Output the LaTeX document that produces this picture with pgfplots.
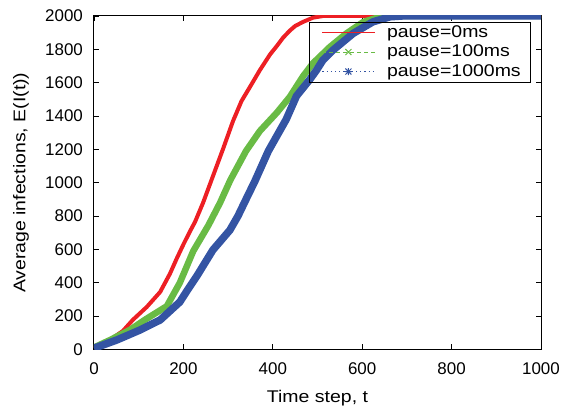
\documentclass[border=0pt]{standalone}
\usepackage{fontspec}
\setmainfont{Liberation Sans}
\newfontfamily\widefont[FakeStretch=1.15]{Liberation Sans}
\usepackage{pgfplots}
\pgfplotsset{compat=1.18}

\definecolor{cred}{RGB}{237,31,36}
\definecolor{cgreen}{RGB}{105,187,69}
\definecolor{cblue}{RGB}{52,84,163}

\begin{document}
\begin{tikzpicture}
\begin{axis}[
    at={(0,0)}, anchor=south west,
    scale only axis,
    width=447bp, height=333.5bp,
    xmin=0, xmax=1000, ymin=0, ymax=2000,
    xtick={0,200,...,1000},
    ytick={0,200,...,2000},
    tick align=inside,
    major tick length=5bp,
    axis line style={line width=1bp},
    every tick/.style={black, line width=0.8bp},
    tick label style={font=\fontsize{17}{20}\selectfont},
    /pgf/number format/assume math mode=true,
    /pgf/number format/1000 sep={},
    yticklabel style={xshift=-7.6bp},
    xticklabel style={yshift=-10bp},
    xlabel={Time step, t},
    ylabel={Average infections, E(I(t))},
    label style={font=\widefont\fontsize{17}{20}\selectfont},
    xlabel style={at={(axis description cs:0.5,-0.1604)}, anchor=base},
    ylabel style={at={(axis description cs:-0.1633,0.5)}, anchor=center},
    legend cell align=left,
    legend style={
        at={(axis description cs:0.481,0.983)}, anchor=north west,
        draw=black, line width=0.8bp, fill=none,
        font=\widefont\fontsize{17}{20}\selectfont,
        inner xsep=10bp, inner ysep=2.5bp,
        row sep=3.5bp, column sep=11bp,
        nodes={inner sep=0pt, text height=12.5bp, text depth=3.5bp},
    },
]
% pause=0ms
\addplot[cred, line width=4bp, line join=round,
    legend image code/.code={
        \path[draw=none, fill=none] (0bp,-2bp) rectangle (56bp,2bp);
        \draw[cred, line width=1bp] (3bp,0bp) -- (56bp,0bp);
    }] coordinates {
(0,10) (15,25) (36,58) (65,112) (87,178) (118,255) (148,345) (170,455)
(185,545) (200,630) (215,710) (226,765) (244,880) (262,1010) (289,1205)
(311,1370) (330,1490) (349,1575) (371,1675) (394,1770) (409,1820)
(423,1870) (438,1912) (450,1940) (468,1965) (490,1990) (512,2000) (1000,2000)
};
\addlegendentry{pause=0ms}
% pause=100ms
\addplot[cgreen, line width=6.5bp, line join=round,
    legend image code/.code={
        \path[draw=none, fill=none] (0bp,-2bp) rectangle (56bp,2bp);
        \draw[cgreen, line width=1bp, dash pattern=on 4bp off 3bp] (3bp,0bp) -- (56bp,0bp);
        \draw[cgreen, line width=1bp] (26bp,-3bp) -- (32bp,3bp) (26bp,3bp) -- (32bp,-3bp);
    }] coordinates {
(0,12) (36,57) (80,117) (118,185) (163,260) (192,400) (222,590) (256,745)
(282,880) (305,1016) (340,1190) (371,1310) (409,1420) (438,1515)
(468,1640) (490,1717) (528,1815) (565,1896) (603,1965) (640,1995)
(660,2000) (1000,2000)
};
\addlegendentry{pause=100ms}
% pause=1000ms
\addplot[cblue, line width=7.5bp, line join=round,
    legend image code/.code={
        \path[draw=none, fill=none] (0bp,-2bp) rectangle (56bp,2bp);
        \draw[cblue, line width=1.2bp, dash pattern=on 1.2bp off 3bp] (3bp,0bp) -- (56bp,0bp);
        \draw[cblue, line width=1bp] (26bp,-3bp) -- (32bp,3bp) (26bp,3bp) -- (32bp,-3bp)
            (29bp,-3.5bp) -- (29bp,3.5bp) (25.5bp,0bp) -- (32.5bp,0bp);
    }] coordinates {
(0,8) (13,20) (51,57) (103,117) (148,177) (192,285) (210,360) (230,440)
(266,597) (304,716) (322,800) (340,900) (360,1010) (390,1190) (430,1380)
(453,1520) (483,1620) (498,1676) (512,1735) (535,1796) (580,1896)
(624,1965) (662,1995) (690,2000) (1000,2000)
};
\addlegendentry{pause=1000ms}
\end{axis}
\pgfresetboundingbox
\useasboundingbox (-94bp,-59.5bp) rectangle (472bp,349.5bp);
\end{tikzpicture}
\end{document}
